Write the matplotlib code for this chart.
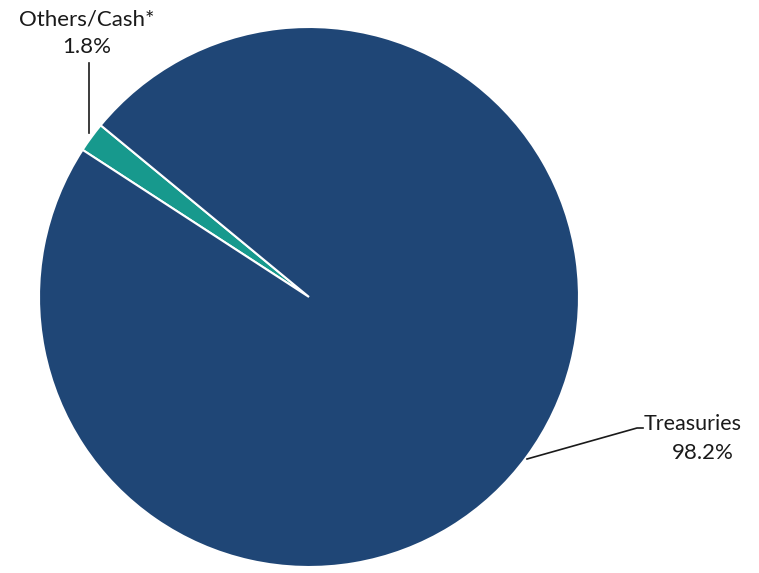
import matplotlib
matplotlib.use("Agg")
import matplotlib.pyplot as plt

labels = ["Others/Cash*", "Treasuries"]
values = [1.8, 98.2]
colors = ["#17998d", "#1f4676"]

W, H = 759, 573
fig = plt.figure(figsize=(W / 100, H / 100), dpi=100)
ax = fig.add_axes([0, 0, 1, 1])

cx, cy, r = 309, H - 297, 270
ax.pie(values, colors=colors, startangle=140.5, counterclock=True,
       center=(cx, cy), radius=r, frame=True,
       wedgeprops=dict(edgecolor="white", linewidth=1.5))
ax.set_xlim(0, W)
ax.set_ylim(0, H)
ax.set_aspect("equal")
ax.axis("off")

font = ["Lato", "DejaVu Sans"]
tc = "#1a1a1a"
ax.text(87, H - 20, labels[0], ha="center", va="center", fontsize=16, family=font, color=tc)
ax.text(87, H - 47, f"{values[0]}%", ha="center", va="center", fontsize=16, family=font, color=tc)
ax.plot([89, 89], [H - 63, H - 133], color="#1a1a1a", lw=1.2)

ax.text(693, H - 424, labels[1], ha="center", va="center", fontsize=15.5, family=font, color=tc)
ax.text(703, H - 453, f"{values[1]}%", ha="center", va="center", fontsize=16, family=font, color=tc)
ax.plot([527, 637, 643], [H - 459, H - 428, H - 428], color="#1a1a1a", lw=1.2)

fig.savefig("out.png", dpi=100)
